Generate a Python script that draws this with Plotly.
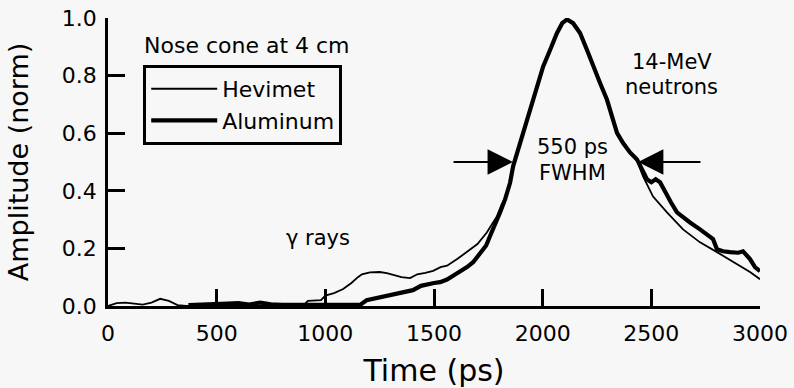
import plotly.graph_objects as go

# ---- data ----
hev_t = [0, 40, 80, 120, 160, 200, 240, 280, 320, 360, 450, 550, 650, 750, 850, 900,
         920, 980, 1000, 1040, 1082, 1120, 1150, 1168, 1205, 1250, 1283, 1320, 1350, 1390,
         1423, 1460, 1496, 1530, 1560, 1605, 1652, 1700, 1743, 1790, 1810, 1827, 1850,
         1864, 1887, 1910, 1933, 1956, 1978, 2002, 2034, 2066, 2090, 2112, 2140, 2172,
         2204, 2233, 2264, 2296, 2319, 2342, 2370, 2402, 2434, 2462, 2508, 2572, 2646,
         2724, 2802, 2876, 2954, 3000]
hev_a = [0.0, 0.010, 0.012, 0.008, 0.005, 0.012, 0.025, 0.018, 0.003, 0.0, 0.002, 0.003,
         0.002, 0.003, 0.002, 0.003, 0.018, 0.020, 0.036, 0.045, 0.059, 0.080, 0.100, 0.110,
         0.117, 0.118, 0.114, 0.105, 0.100, 0.097, 0.110, 0.115, 0.122, 0.135, 0.140, 0.162,
         0.187, 0.215, 0.255, 0.312, 0.350, 0.375, 0.428, 0.485, 0.543, 0.601, 0.658, 0.716,
         0.774, 0.831, 0.889, 0.948, 0.982, 0.995, 0.982, 0.948, 0.889, 0.831, 0.774, 0.716,
         0.658, 0.601, 0.566, 0.533, 0.505, 0.450, 0.380, 0.325, 0.266, 0.221, 0.187, 0.152,
         0.118, 0.093]

alu_t = [370, 450, 550, 600, 650, 700, 750, 800, 900, 1000, 1100, 1160, 1190, 1250, 1283,
         1344, 1403, 1440, 1468, 1500, 1528, 1560, 1588, 1620, 1652, 1680, 1712, 1740,
         1758, 1780, 1804, 1827, 1850, 1864, 1887, 1910, 1933, 1956, 1978, 2002, 2034,
         2066, 2090, 2112, 2140, 2172, 2204, 2233, 2264, 2296, 2319, 2342, 2370, 2402,
         2434, 2460, 2480, 2500, 2520, 2540, 2560, 2590, 2618, 2650, 2678, 2724, 2760,
         2784, 2802, 2830, 2862, 2900, 2922, 2940, 2954, 2977, 3000]
alu_a = [0.003, 0.004, 0.008, 0.010, 0.005, 0.012, 0.006, 0.004, 0.003, 0.002, 0.002,
         0.004, 0.020, 0.030, 0.034, 0.045, 0.055, 0.070, 0.076, 0.080, 0.083, 0.092,
         0.105, 0.118, 0.135, 0.152, 0.180, 0.210, 0.243, 0.280, 0.325, 0.370, 0.428,
         0.485, 0.543, 0.601, 0.658, 0.716, 0.774, 0.831, 0.889, 0.948, 0.982, 0.995,
         0.982, 0.948, 0.889, 0.831, 0.774, 0.716, 0.658, 0.601, 0.566, 0.533, 0.509,
         0.470, 0.440, 0.430, 0.440, 0.430, 0.400, 0.360, 0.325, 0.305, 0.290, 0.266,
         0.245, 0.232, 0.197, 0.190, 0.187, 0.185, 0.190, 0.175, 0.163, 0.135, 0.121]

x_ticks = [0, 500, 1000, 1500, 2000, 2500, 3000]
y_ticks = [0.0, 0.2, 0.4, 0.6, 0.8, 1.0]

FONT = "DejaVu Sans"
BG = "#f7f7f7"

fig = go.Figure()
fig.add_trace(go.Scatter(x=hev_t, y=hev_a, mode="lines", name="Hevimet",
                         line=dict(color="black", width=1.8)))
fig.add_trace(go.Scatter(x=alu_t, y=alu_a, mode="lines", name="Aluminum",
                         line=dict(color="black", width=4.2)))

ann_font = dict(family=FONT, size=21, color="black")
annotations = [
    dict(x=156, y=0.906, text="Nose cone at 4 cm", xanchor="left", yanchor="middle"),
    dict(x=966, y=0.237, text="γ rays", xanchor="center", yanchor="middle"),
    dict(x=2135, y=0.553, text="550 ps", xanchor="center", yanchor="middle"),
    dict(x=2135, y=0.463, text="FWHM", xanchor="center", yanchor="middle"),
    dict(x=2595, y=0.848, text="14-MeV", xanchor="center", yanchor="middle"),
    dict(x=2595, y=0.762, text="neutrons", xanchor="center", yanchor="middle"),
]
for a in annotations:
    a.update(xref="x", yref="y", showarrow=False, font=ann_font)
annotations[0]["font"] = dict(family=FONT, size=22, color="black")

# FWHM arrows
for head_x, tail_x in [(1863, 1583), (2439, 2733)]:
    annotations.append(dict(x=head_x, y=0.5, ax=tail_x, ay=0.5, xref="x", yref="y",
                            axref="x", ayref="y", text="", showarrow=True,
                            arrowhead=2, arrowsize=2.3, arrowwidth=2.2,
                            arrowcolor="black"))

fig.update_layout(
    width=794, height=388,
    margin=dict(l=108, r=34, t=18, b=81.5),
    paper_bgcolor=BG, plot_bgcolor=BG,
    font=dict(family=FONT, size=22, color="black"),
    showlegend=True,
    legend=dict(x=0.054, y=0.837, xanchor="left", yanchor="top",
                bgcolor=BG, bordercolor="black", borderwidth=3,
                font=dict(family=FONT, size=22, color="black"),
                itemwidth=66, tracegroupgap=0),
    annotations=annotations,
    xaxis=dict(range=[0, 3000], tickvals=x_ticks, ticktext=[str(v) for v in x_ticks],
               showline=True, linewidth=2.5, linecolor="black",
               ticks="inside", ticklen=17, tickwidth=2.5, tickcolor="black",
               showgrid=False, zeroline=False, automargin=False,
               ticklabelstandoff=6,
               tickfont=dict(family=FONT, size=22),
               title=dict(text="Time (ps)", font=dict(family=FONT, size=30), standoff=15)),
    yaxis=dict(range=[0, 1.0], tickvals=y_ticks, ticktext=[f"{v:.1f}" for v in y_ticks],
               showline=True, linewidth=2.5, linecolor="black",
               ticks="inside", ticklen=17, tickwidth=2.5, tickcolor="black",
               showgrid=False, zeroline=False, automargin=False,
               ticklabelstandoff=4,
               tickfont=dict(family=FONT, size=22),
               title=dict(text="Amplitude (norm)", font=dict(family=FONT, size=27), standoff=26)),
)

fig.write_html("out.html", config={"displayModeBar": False},
               post_script="document.body.style.margin='0';document.body.style.background='%s';" % BG)
